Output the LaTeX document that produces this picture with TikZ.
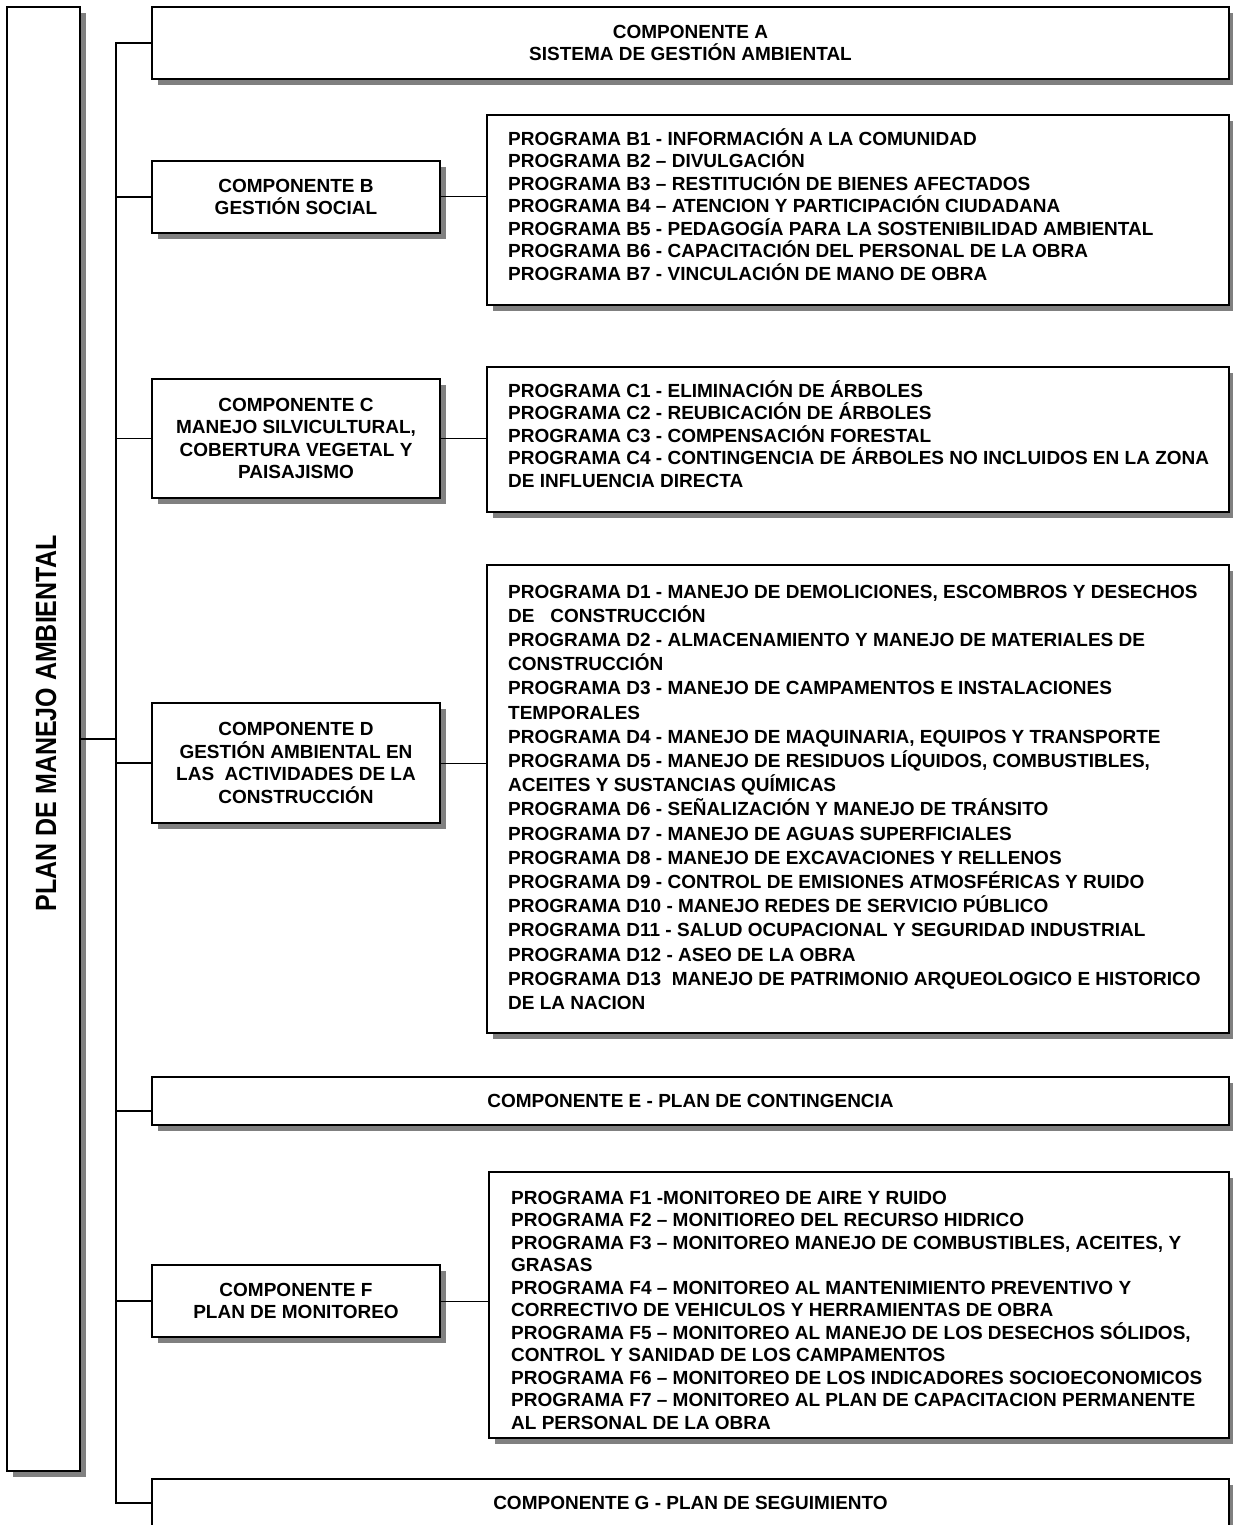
\documentclass[tikz,border=0pt]{standalone}
\usepackage{fontspec}
\setmainfont{Liberation Sans}
\usetikzlibrary{shadows,calc}

\begin{document}
\begin{tikzpicture}[x=1pt,y=-1pt,
  box/.style={draw,line width=1.6pt,fill=white,inner sep=0pt,
    drop shadow={shadow xshift=6pt,shadow yshift=-6pt,fill=black!50,opacity=1}},
  comp/.style={box,align=center,font=\fontsize{19}{22.5}\selectfont\bfseries},
  prog/.style={anchor=north west,inner sep=0pt,align=left,
    font=\fontsize{19}{#1}\selectfont\bfseries},
  prog/.default=22.5,
  link/.style={line width=1.6pt},
  thin link/.style={line width=1pt}]
\useasboundingbox (0,0) rectangle (1233,1525);

\node[box,minimum width=73pt,minimum height=1464pt] (plan) at (43.5,739) {};
\node[rotate=90,inner sep=0pt,font=\fontsize{25}{28}\selectfont\bfseries] (plantext) at ($(plan)+(2.5,-15.5)$)
  {\scalebox{1}[1.17]{PLAN DE MANEJO AMBIENTAL}};

\node[comp,minimum width=1077pt,minimum height=72pt] (compA) at (690.5,43) {COMPONENTE A\\SISTEMA DE GESTIÓN AMBIENTAL};
\node[comp,minimum width=288pt,minimum height=72pt] (compB) at (296,197) {COMPONENTE B\\GESTIÓN SOCIAL};
\node[comp,minimum width=288pt,minimum height=119pt] (compC) at (296,438.5) {COMPONENTE C\\MANEJO SILVICULTURAL,\\COBERTURA VEGETAL Y\\PAISAJISMO};
\node[comp,minimum width=288pt,minimum height=120pt] (compD) at (296,763) {COMPONENTE D\\GESTIÓN AMBIENTAL EN\\LAS\ \ ACTIVIDADES DE LA\\CONSTRUCCIÓN};
\node[comp,minimum width=1077pt,minimum height=48pt] (compE) at (690.5,1101) {COMPONENTE E - PLAN DE CONTINGENCIA};
\node[comp,minimum width=288pt,minimum height=72pt] (compF) at (296,1301) {COMPONENTE F\\PLAN DE MONITOREO};
\node[comp,minimum width=1077pt,minimum height=48pt] (compG) at (690.5,1503) {COMPONENTE G - PLAN DE SEGUIMIENTO};

\node[box,minimum width=742pt,minimum height=190pt] (progB) at (858,210) {};
\node[box,minimum width=742pt,minimum height=145pt] (progC) at (858,439.5) {};
\node[box,minimum width=742pt,minimum height=468pt] (progD) at (858,799) {};
\node[box,minimum width=740pt,minimum height=266pt] (progF) at (859,1305) {};

\node[prog] (listB) at (508,125.8) {\rule{0pt}{19pt}PROGRAMA B1 - INFORMACIÓN A LA COMUNIDAD\\
PROGRAMA B2 – DIVULGACIÓN\\
PROGRAMA B3 – RESTITUCIÓN DE BIENES AFECTADOS\\
PROGRAMA B4 – ATENCION Y PARTICIPACIÓN CIUDADANA\\
PROGRAMA B5 - PEDAGOGÍA PARA LA SOSTENIBILIDAD AMBIENTAL\\
PROGRAMA B6 - CAPACITACIÓN DEL PERSONAL DE LA OBRA\\
PROGRAMA B7 - VINCULACIÓN DE MANO DE OBRA};

\node[prog] (listC) at (508,377.8) {\rule{0pt}{19pt}PROGRAMA C1 - ELIMINACIÓN DE ÁRBOLES\\
PROGRAMA C2 - REUBICACIÓN DE ÁRBOLES\\
PROGRAMA C3 - COMPENSACIÓN FORESTAL\\
PROGRAMA C4 - CONTINGENCIA DE ÁRBOLES NO INCLUIDOS EN LA ZONA\\
DE INFLUENCIA DIRECTA};

\node[prog=24.2] (listD) at (508,578.8) {\rule{0pt}{19pt}PROGRAMA D1 - MANEJO DE DEMOLICIONES, ESCOMBROS Y DESECHOS\\
DE\ \ \ CONSTRUCCIÓN\\
PROGRAMA D2 - ALMACENAMIENTO Y MANEJO DE MATERIALES DE\\
CONSTRUCCIÓN\\
PROGRAMA D3 - MANEJO DE CAMPAMENTOS E INSTALACIONES\\
TEMPORALES\\
PROGRAMA D4 - MANEJO DE MAQUINARIA, EQUIPOS Y TRANSPORTE\\
PROGRAMA D5 - MANEJO DE RESIDUOS LÍQUIDOS, COMBUSTIBLES,\\
ACEITES Y SUSTANCIAS QUÍMICAS\\
PROGRAMA D6 - SEÑALIZACIÓN Y MANEJO DE TRÁNSITO\\
PROGRAMA D7 - MANEJO DE AGUAS SUPERFICIALES\\
PROGRAMA D8 - MANEJO DE EXCAVACIONES Y RELLENOS\\
PROGRAMA D9 - CONTROL DE EMISIONES ATMOSFÉRICAS Y RUIDO\\
PROGRAMA D10 - MANEJO REDES DE SERVICIO PÚBLICO\\
PROGRAMA D11 - SALUD OCUPACIONAL Y SEGURIDAD INDUSTRIAL\\
PROGRAMA D12 - ASEO DE LA OBRA\\
PROGRAMA D13\ \ MANEJO DE PATRIMONIO ARQUEOLOGICO E HISTORICO\\
DE LA NACION};

\node[prog] (listF) at (511,1184.8) {\rule{0pt}{19pt}PROGRAMA F1 -MONITOREO DE AIRE Y RUIDO\\
PROGRAMA F2 – MONITIOREO DEL RECURSO HIDRICO\\
PROGRAMA F3 – MONITOREO MANEJO DE COMBUSTIBLES, ACEITES, Y\\
GRASAS\\
PROGRAMA F4 – MONITOREO AL MANTENIMIENTO PREVENTIVO Y\\
CORRECTIVO DE VEHICULOS Y HERRAMIENTAS DE OBRA\\
PROGRAMA F5 – MONITOREO AL MANEJO DE LOS DESECHOS SÓLIDOS,\\
CONTROL Y SANIDAD DE LOS CAMPAMENTOS\\
PROGRAMA F6 – MONITOREO DE LOS INDICADORES SOCIOECONOMICOS\\
PROGRAMA F7 – MONITOREO AL PLAN DE CAPACITACION PERMANENTE\\
AL PERSONAL DE LA OBRA};

% tronco y ramas
\coordinate (trunkA) at (116,43);
\coordinate (trunkG) at (116,1503);
\draw[link] (compA.west) -- (trunkA) -- (trunkG) -- (compG.west);
\draw[link] (plan.east) -- (plan.east -| trunkA);
\foreach \c in {B,C,D,F}
  \draw[link] (comp\c.west) -- (comp\c.west -| trunkA);
\draw[link] ($(compE.west)+(0,10)$) -- ($(compE.west -| trunkA)+(0,10)$);
\foreach \c in {B,C,D,F}
  \draw[thin link] (comp\c.east) -- (comp\c.east -| prog\c.west);
\end{tikzpicture}
\end{document}
